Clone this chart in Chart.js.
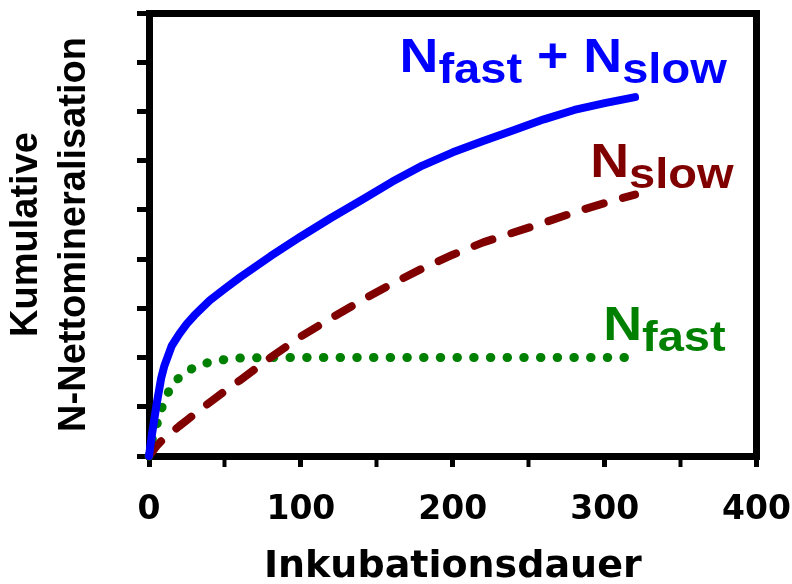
<!DOCTYPE html>
<html>
<head>
<meta charset="utf-8">
<script src="https://cdn.jsdelivr.net/npm/chart.js@4.4.0/dist/chart.umd.min.js"></script>
<style>
  html, body { margin: 0; padding: 0; background: #ffffff; }
  #wrap { width: 792px; height: 584px; }
</style>
</head>
<body>
<div id="wrap"><canvas id="myChart" width="792" height="584"></canvas></div>
<script>
// Inkubationsdauer (days)
var days = [0, 2, 5, 8, 10, 15, 20, 25, 30, 40, 50, 60, 80, 100, 120, 140, 160, 180, 200, 220, 240, 260, 280, 300, 320];

// N fast + N slow
var nTotal = [0, 0.45, 1.05, 1.58, 1.82, 2.24, 2.48, 2.69, 2.86, 3.16, 3.40, 3.63, 4.06, 4.46, 4.84, 5.20, 5.57, 5.90, 6.17, 6.40, 6.62, 6.84, 7.03, 7.17, 7.29];

// N slow
var nSlow = [0, 0.08, 0.20, 0.30, 0.35, 0.48, 0.61, 0.73, 0.85, 1.09, 1.32, 1.54, 2.00, 2.43, 2.80, 3.16, 3.50, 3.81, 4.09, 4.34, 4.54, 4.74, 4.95, 5.14, 5.31];

// N fast
var nFast = [0, 0.32, 0.62, 0.93, 1.13, 1.43, 1.60, 1.72, 1.80, 1.91, 1.96, 1.99, 2.00, 2.00, 2.00, 2.00, 2.00, 2.00, 2.00, 2.00, 2.00, 2.00, 2.00, 2.00, 2.00];

var xTickLabels = [0, 100, 200, 300, 400];

function toPoints(values) {
  return values.map(function (v, i) { return { x: days[i], y: v }; });
}

var ctx = document.getElementById('myChart').getContext('2d');

// curve labels with subscripts, placed in data units
var curveLabels = [
  { x: 165, y: 7.8, color: '#0000ff', parts: [['N', 0], ['fast', 1], [' + ', 0], ['N', 0], ['slow', 1]] },
  { x: 290.5, y: 5.67, color: '#800000', parts: [['N', 0], ['slow', 1]] },
  { x: 299, y: 2.36, color: '#008000', parts: [['N', 0], ['fast', 1]] }
];

var labelPlugin = {
  id: 'curveLabels',
  afterDatasetsDraw: function (chart) {
    var c = chart.ctx;
    var xs = chart.scales.x;
    var ys = chart.scales.y;
    curveLabels.forEach(function (lab) {
      c.save();
      c.translate(xs.getPixelForValue(lab.x), ys.getPixelForValue(lab.y));
      c.scale(1.12, 1);
      c.fillStyle = lab.color;
      c.textBaseline = 'alphabetic';
      c.textAlign = 'left';
      var cx = 0;
      lab.parts.forEach(function (p) {
        c.font = p[1] ? 'bold 42px "Liberation Sans", Arial, sans-serif' : 'bold 48px "Liberation Sans", Arial, sans-serif';
        c.fillText(p[0], cx, p[1] ? 11 : 0);
        cx += c.measureText(p[0]).width;
      });
      c.restore();
    });
  }
};

var frameAxis = function (position, size) {
  return {
    type: 'linear',
    position: position,
    display: true,
    ticks: { display: false },
    grid: { display: true, drawOnChartArea: false, drawTicks: false, lineWidth: 7 },
    border: { display: true, color: '#000000', width: 7 },
    afterFit: function (scale) {
      if (scale.isHorizontal()) { scale.height = size; } else { scale.width = size; }
    }
  };
};

var myChart = new Chart(ctx, {
  type: 'line',
  data: {
    datasets: [{
      label: 'N fast + N slow',
      data: toPoints(nTotal),
      borderColor: '#0000ff',
      borderWidth: 8,
      borderCapStyle: 'round',
      borderJoinStyle: 'round',
      pointRadius: 0,
      tension: 0,
      clip: false
    }, {
      label: 'N slow',
      data: toPoints(nSlow),
      borderColor: '#800000',
      borderWidth: 8,
      borderDash: [19, 20],
      borderCapStyle: 'round',
      borderJoinStyle: 'round',
      pointRadius: 0,
      tension: 0,
      clip: false
    }, {
      label: 'N fast',
      data: toPoints(nFast),
      borderColor: '#008000',
      borderWidth: 9,
      borderDash: [0.5, 16.2],
      borderCapStyle: 'round',
      borderJoinStyle: 'round',
      pointRadius: 0,
      tension: 0,
      clip: false
    }]
  },
  options: {
    responsive: false,
    animation: false,
    layout: { padding: 0 },
    plugins: {
      legend: { display: false },
      tooltip: { enabled: false }
    },
    scales: {
      x: {
        type: 'linear',
        position: 'bottom',
        min: 0,
        max: 400,
        ticks: {
          stepSize: 50,
          padding: 1,
          autoSkip: false,
          maxRotation: 0,
          minRotation: 0,
          color: '#000000',
          font: { family: '"DejaVu Sans", sans-serif', weight: 'bold', size: 33, lineHeight: 2.6 },
          callback: function (value) {
            return xTickLabels.indexOf(value) >= 0 ? String(value) : '';
          }
        },
        grid: {
          display: true,
          drawOnChartArea: false,
          drawTicks: true,
          tickLength: 11,
          tickColor: '#000000',
          tickWidth: function (c) { return c.tick && c.tick.value % 100 === 0 ? 5 : 4; },
          lineWidth: 7
        },
        border: { display: true, color: '#000000', width: 7 },
        title: {
          display: true,
          text: 'Inkubationsdauer',
          color: '#000000',
          padding: { top: 0, bottom: 0 },
          font: { family: '"DejaVu Sans", sans-serif', weight: 'bold', size: 38, lineHeight: 0.9 }
        },
        afterFit: function (scale) { scale.height = 128; }
      },
      y: {
        type: 'linear',
        position: 'left',
        min: 0,
        max: 9,
        ticks: { display: false, stepSize: 1 },
        grid: {
          display: true,
          drawOnChartArea: false,
          drawTicks: true,
          tickLength: 12,
          tickColor: '#000000',
          tickWidth: 5,
          lineWidth: 7
        },
        border: { display: true, color: '#000000', width: 7 },
        title: {
          display: true,
          text: ['Kumulative', 'N-Nettomineralisation'],
          color: '#000000',
          padding: { top: 2, bottom: 0 },
          font: { family: '"Liberation Sans", Arial, sans-serif', weight: 'bold', size: 38, lineHeight: 1.27 }
        },
        afterFit: function (scale) { scale.width = 149; }
      },
      x2: frameAxis('top', 13),
      y2: frameAxis('right', 35)
    }
  },
  plugins: [labelPlugin]
});
</script>
</body>
</html>
